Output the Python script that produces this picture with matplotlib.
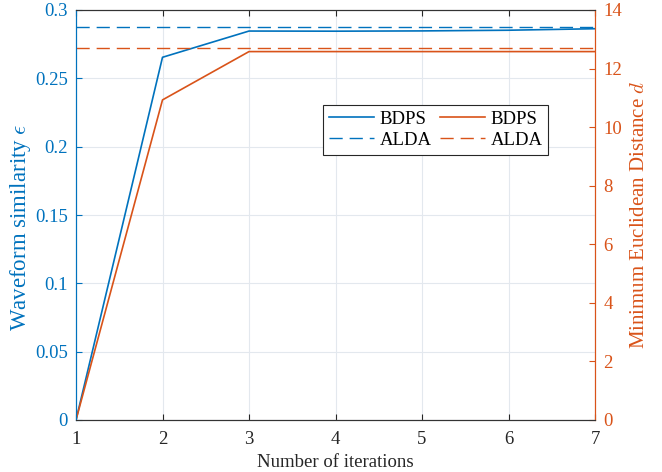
import matplotlib
matplotlib.use("Agg")
import matplotlib.pyplot as plt

iterations = [1, 2, 3, 4, 5, 6, 7]
similarity_bdps = [0.0, 0.2654, 0.2846, 0.2845, 0.2847, 0.2852, 0.2863]
similarity_alda = 0.2878
distance_bdps = [0.0, 10.93, 12.58, 12.58, 12.58, 12.58, 12.58]
distance_alda = 12.69

blue = "#0072BD"
orange = "#D95319"

plt.rcParams["font.family"] = ["Liberation Serif", "DejaVu Serif"]
plt.rcParams["mathtext.fontset"] = "cm"

fig = plt.figure(figsize=(6.62, 4.72), dpi=100)
ax = fig.add_axes([76/662, 1-420/472, (595-76)/662, (420-10)/472])
ax2 = ax.twinx()

ax.plot(iterations, similarity_bdps, color=blue, lw=1.2, label="BDPS")
ax.axhline(similarity_alda, color=blue, lw=1.0, dashes=(9.5, 5), label="ALDA")
ax2.plot(iterations, distance_bdps, color=orange, lw=1.2, label="BDPS")
ax2.axhline(distance_alda, color=orange, lw=1.0, dashes=(9.5, 5), label="ALDA")

ax.set_xlim(1, 7)
ax.set_ylim(0, 0.3)
ax2.set_ylim(0, 14)
ax.set_xticks(iterations)
ax.set_yticks([0, 0.05, 0.1, 0.15, 0.2, 0.25, 0.3])
ax.set_yticklabels(["0", "0.05", "0.1", "0.15", "0.2", "0.25", "0.3"])
ax2.set_yticks([0, 2, 4, 6, 8, 10, 12, 14])

ax.grid(True, color="#e3e8ee", lw=0.8)
ax.set_axisbelow(True)

ax.tick_params(axis="x", direction="in", top=True, colors="#262626", labelsize=13.5, length=4, pad=8)
ax.tick_params(axis="y", direction="in", colors=blue, labelsize=13.5, length=4, pad=6)
ax2.tick_params(axis="y", direction="in", colors=orange, labelsize=13.5, length=4, pad=6)

for a in (ax, ax2):
    a.spines["top"].set_color("#333333")
    a.spines["bottom"].set_color("#333333")
    a.spines["left"].set_color(blue)
    a.spines["right"].set_color(orange)
    for s in a.spines.values():
        s.set_linewidth(0.8)

ax.set_xlabel("Number of iterations", fontsize=13.5, color="#262626", labelpad=4)
ax.set_ylabel(r"Waveform similarity $\epsilon$", fontsize=16.5, color=blue)
ax.yaxis.set_label_coords(-0.083, 0.47)
ax2.set_ylabel(r"Minimum Euclidean Distance $d$", fontsize=15, color=orange, labelpad=6)

h1, l1 = ax.get_legend_handles_labels()
h2, l2 = ax2.get_legend_handles_labels()
leg = ax2.legend(h1 + h2, l1 + l2, ncol=2, loc="upper right",
                 bbox_to_anchor=((548-76)/519, 1-(105-10)/410),
                 fontsize=13.5, frameon=True, fancybox=False,
                 edgecolor="#262626", framealpha=1, handlelength=2.4,
                 columnspacing=0.45, handletextpad=0.3, borderpad=0.3,
                 labelspacing=0.22, borderaxespad=0)
leg.get_frame().set_linewidth(0.8)

fig.savefig("out.png", dpi=100)
